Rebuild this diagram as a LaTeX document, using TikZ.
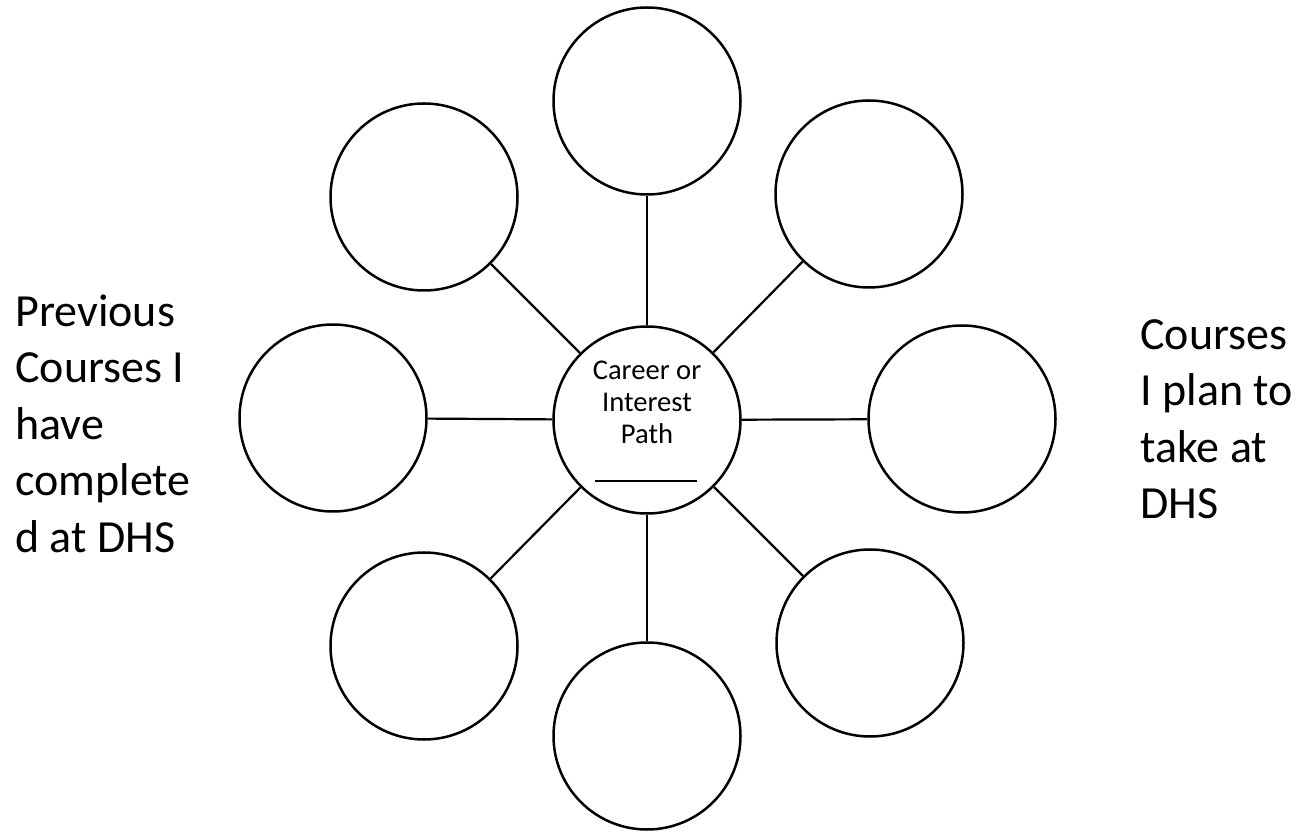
\documentclass[tikz,border=0pt]{standalone}
\usepackage{fontspec}
\setmainfont{Carlito}
\begin{document}
\begin{tikzpicture}[x=0.5pt,y=-0.5pt,
  bubble/.style={circle,draw=black,line width=1.25pt,minimum size=93.5pt,inner sep=0pt,fill=white},
  spoke/.style={draw=black,line width=1.1pt},
  sidetext/.style={align=left,inner sep=0pt,anchor=north west,font=\fontsize{23}{28.25}\selectfont},
  centertext/.style={align=center,inner sep=0pt,font=\fontsize{14.3}{16}\selectfont}]
\useasboundingbox[fill=white] (0,0) rectangle (1312,833);
\node[bubble] (c) at (647,420) {};
\node[bubble] (t) at (647,101) {};
\node[bubble] (tr) at (869,194) {};
\node[bubble] (r) at (962,419) {};
\node[bubble] (br) at (870,643) {};
\node[bubble] (b) at (647,736) {};
\node[bubble] (bl) at (424,646) {};
\node[bubble] (l) at (333,418) {};
\node[bubble] (tl) at (424,197) {};
\foreach \n in {t,tr,r,br,b,bl,l,tl}{\draw[spoke] (c) -- (\n);}
\node[centertext] (ctext) at (647,402) {Career or\\Interest\\Path};
\coordinate (u1) at (595,481);
\coordinate (u2) at (697,481);
\draw[line width=1pt] (u1) -- (u2);
\node[sidetext] (ltext) at (15,294) {Previous\\Courses I\\have\\complete\\d at DHS};
\node[sidetext] (rtext) at (1140,319) {Courses\\I plan to\\take at\\DHS};
\end{tikzpicture}
\end{document}
